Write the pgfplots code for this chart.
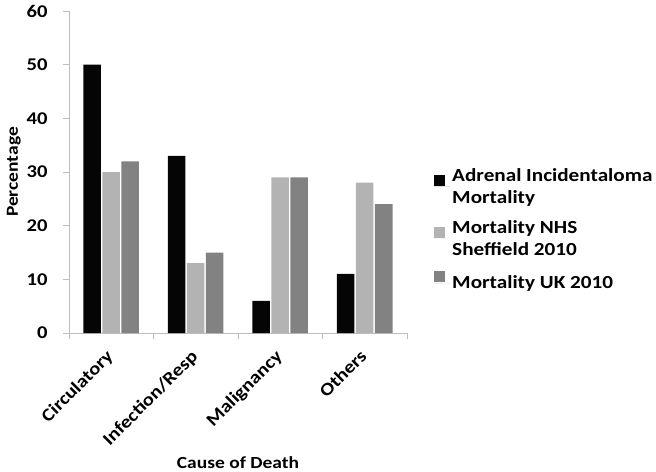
\documentclass[border=0pt]{standalone}
\usepackage{pgfplots}
\pgfplotsset{compat=1.18}
\usepackage{fontspec}
\setmainfont{Carlito}[FakeStretch=1.15]
\definecolor{barblack}{HTML}{050505}
\definecolor{barlight}{HTML}{B3B3B3}
\definecolor{bardark}{HTML}{828282}
\definecolor{axisgray}{HTML}{BDBDBD}
\begin{document}
\begin{tikzpicture}
% page = reference frame; the axis box sits at the origin
\useasboundingbox (-69bp,-139bp) rectangle (587bp,333bp);
\begin{axis}[
  name=ax,
  scale only axis,
  width=338bp, height=322bp,
  ybar=1.5bp, bar width=17.5bp,
  xmin=-0.5, xmax=3.5,
  ymin=0, ymax=60,
  ytick={0,10,...,60},
  xtick={0,1,2,3},
  xticklabels={Circulatory,Infection/Resp,Malignancy,Others},
  minor xtick={-0.5,0.5,1.5,2.5,3.5},
  axis x line*=bottom, axis y line*=left,
  axis line style={axisgray, line width=1pt, -},
  major x tick style={draw=none},
  minor x tick style={axisgray, line width=1pt},
  major y tick style={axisgray, line width=1pt},
  tick align=outside,
  major tick length=6bp, minor tick length=6bp,
  tick label style={font=\fontsize{18}{22}\selectfont\bfseries},
  /pgf/number format/assume math mode=true,
  y tick label style={xshift=-12bp},
  x tick label style={rotate=45, anchor=north east, xshift=-7.8bp, yshift=0.7bp,
    font=\fontsize{18}{20}\selectfont\bfseries, inner sep=3bp},
  xlabel={Cause of Death},
  ylabel={Percentage},
  label style={font=\fontsize{17}{20}\selectfont\bfseries},
  xlabel style={yshift=-1bp},
  ylabel style={yshift=-1bp},
  legend style={draw=none, fill=none, at={(1.08,0.518)}, anchor=north west,
    font=\fontsize{18.5}{22}\selectfont\bfseries, inner sep=0pt,
    cells={anchor=base west, align=left, inner sep=0pt},
    row sep=12bp},
  legend cell align=left,
  legend image code/.code={\fill[#1] (0bp,1bp) rectangle (11bp,12bp); \path (0bp,0bp) -- (16bp,0bp);},
]
\addplot[fill=barblack, draw=none] coordinates {(0,50) (1,33) (2,6) (3,11)};
\addlegendentry{Adrenal Incidentaloma\\Mortality}
\addplot[fill=barlight, draw=none] coordinates {(0,30) (1,13) (2,29) (3,28)};
\addlegendentry{Mortality NHS\\Sheffield 2010}
\addplot[fill=bardark, draw=none] coordinates {(0,32) (1,15) (2,29) (3,24)};
\addlegendentry{Mortality UK 2010}
\end{axis}
\end{tikzpicture}
\end{document}
